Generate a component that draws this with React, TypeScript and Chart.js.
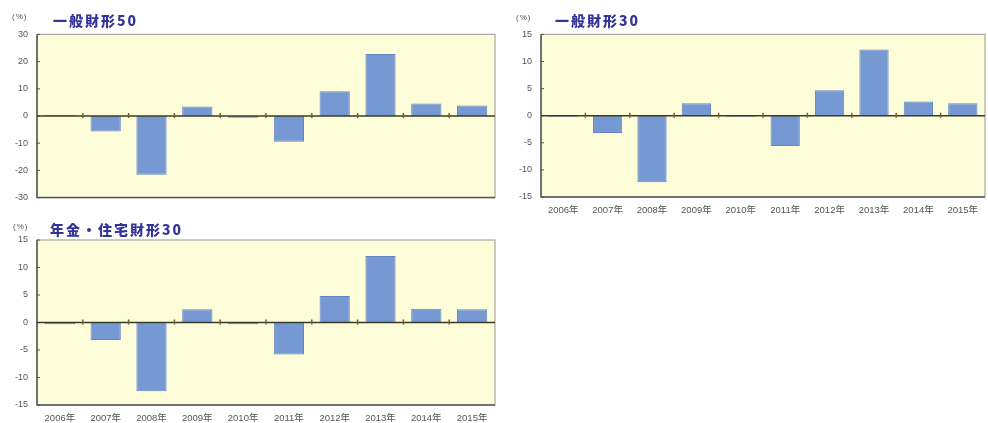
import React, { useEffect, useRef } from "react";
import { Chart, registerables } from "chart.js";
Chart.register(...registerables);

const years = ["2006年", "2007年", "2008年", "2009年", "2010年", "2011年", "2012年", "2013年", "2014年", "2015年"];
const ippan50 = [0.4, -5.7, -21.6, 3.5, -0.6, -9.5, 9.1, 22.8, 4.6, 3.9];
const ippan30 = [-0.2, -3.2, -12.3, 2.3, -0.2, -5.6, 4.7, 12.2, 2.6, 2.3];
const nenkin30 = [-0.3, -3.2, -12.5, 2.4, -0.3, -5.8, 4.8, 12.1, 2.5, 2.4];
const titles = ["一般財形50", "一般財形30", "年金・住宅財形30"];
const unitLabel = "(%)";

const decor = {
  id: "decor",
  beforeDraw(chart: any) {
    const { ctx, chartArea: a } = chart;
    ctx.save();
    ctx.fillStyle = "#FEFDD9";
    ctx.fillRect(a.left, a.top, a.right - a.left, a.bottom - a.top);
    ctx.restore();
  },
  afterDatasetsDraw(chart: any) {
    const { ctx, chartArea: a, scales } = chart;
    const y = scales.y;
    const x = scales.x;
    ctx.save();
    ctx.strokeStyle = "#a8a8a0";
    ctx.lineWidth = 1.2;
    ctx.strokeRect(a.left, a.top, a.right - a.left, a.bottom - a.top);
    ctx.strokeStyle = "#555";
    ctx.lineWidth = 1.5;
    ctx.beginPath();
    ctx.moveTo(a.left, a.top);
    ctx.lineTo(a.left, a.bottom);
    ctx.lineTo(a.right, a.bottom);
    ctx.stroke();
    ctx.lineWidth = 1;
    y.ticks.forEach((t: any) => {
      const py = y.getPixelForValue(t.value);
      ctx.beginPath();
      ctx.moveTo(a.left, py);
      ctx.lineTo(a.left + 3, py);
      ctx.stroke();
    });
    const z = y.getPixelForValue(0);
    ctx.strokeStyle = "#3a3a2a";
    ctx.lineWidth = 1.6;
    ctx.beginPath();
    ctx.moveTo(a.left, z);
    ctx.lineTo(a.right, z);
    ctx.stroke();
    ctx.strokeStyle = "#6b6030";
    ctx.lineWidth = 1.5;
    const n = x.getLabels().length;
    for (let i = 0; i < n - 1; i++) {
      const px = (x.getPixelForValue(i) + x.getPixelForValue(i + 1)) / 2;
      ctx.beginPath();
      ctx.moveTo(px, z - 3);
      ctx.lineTo(px, z + 2);
      ctx.stroke();
    }
    ctx.restore();
  },
};

type Spec = {
  data: number[];
  range: number;
  step: number;
  left: number;
  top: number;
  width: number;
  height: number;
  yWidth: number;
  xHeight: number;
  showX: boolean;
  pad: { top: number; right: number; bottom: number; left: number };
};

function BarChart({ spec }: { spec: Spec }) {
  const ref = useRef<HTMLCanvasElement>(null);
  useEffect(() => {
    if (!ref.current) return;
    const chart = new Chart(ref.current, {
      type: "bar",
      data: {
        labels: years,
        datasets: [
          {
            data: spec.data,
            backgroundColor: "#7698D3",
            borderColor: "#6585C0",
            borderWidth: 1,
            categoryPercentage: 1,
            barPercentage: 0.66,
          },
        ],
      },
      plugins: [decor],
      options: {
        animation: false,
        responsive: false,
        layout: { padding: spec.pad },
        plugins: { legend: { display: false }, tooltip: { enabled: false } },
        scales: {
          x: {
            grid: { display: false, drawTicks: false },
            border: { display: false },
            ticks: {
              display: spec.showX,
              padding: 8,
              color: "#555",
              font: { size: 9.5, family: "'Liberation Sans', 'Noto Sans CJK JP', sans-serif" },
              maxRotation: 0,
              autoSkip: false,
            },
            afterFit: (s: any) => {
              s.height = spec.xHeight;
            },
          },
          y: {
            min: -spec.range,
            max: spec.range,
            grid: { display: false, drawTicks: false },
            border: { display: false },
            ticks: {
              stepSize: spec.step,
              padding: 9,
              color: "#555",
              font: { size: 9, family: "'Liberation Sans', Arial, sans-serif" },
            },
            afterFit: (s: any) => {
              s.width = spec.yWidth;
            },
          },
        },
      },
    });
    return () => chart.destroy();
  }, []);
  return (
    <canvas
      ref={ref}
      width={spec.width}
      height={spec.height}
      style={{ position: "absolute", left: spec.left, top: spec.top, width: spec.width, height: spec.height }}
    />
  );
}

const titleStyle: React.CSSProperties = {
  position: "absolute",
  fontFamily: "'Noto Sans CJK JP', sans-serif",
  fontWeight: 900,
  fontSize: 14,
  letterSpacing: 2,
  color: "#33339a",
  lineHeight: "15px",
  whiteSpace: "nowrap",
};
const unitStyle: React.CSSProperties = {
  position: "absolute",
  fontFamily: "'Liberation Sans', Arial, sans-serif",
  fontSize: 8,
  letterSpacing: 1,
  color: "#555",
  lineHeight: "9px",
  whiteSpace: "nowrap",
};

export default function App() {
  const specs: Spec[] = [
    { data: ippan50, range: 30, step: 10, left: 0, top: 20, width: 500, height: 192, yWidth: 37, xHeight: 0, showX: false, pad: { top: 12, right: 5, bottom: 1, left: 0 } },
    { data: ippan30, range: 15, step: 5, left: 500, top: 20, width: 488, height: 203, yWidth: 41, xHeight: 20, showX: true, pad: { top: 13, right: 3, bottom: 6, left: 0 } },
    { data: nenkin30, range: 15, step: 5, left: 0, top: 225, width: 500, height: 198, yWidth: 37, xHeight: 18, showX: true, pad: { top: 15, right: 5, bottom: 0, left: 0 } },
  ];
  return (
    <div style={{ position: "absolute", left: 0, top: 0, width: 988, height: 423, background: "#fff", overflow: "hidden" }}>
      {specs.map((s, i) => (
        <BarChart key={i} spec={s} />
      ))}
      <div style={{ ...unitStyle, left: 12, top: 12 }}>{unitLabel}</div>
      <div style={{ ...titleStyle, left: 53, top: 13 }}>{titles[0]}</div>
      <div style={{ ...unitStyle, left: 516, top: 13 }}>{unitLabel}</div>
      <div style={{ ...titleStyle, left: 555, top: 13 }}>{titles[1]}</div>
      <div style={{ ...unitStyle, left: 13, top: 222 }}>{unitLabel}</div>
      <div style={{ ...titleStyle, left: 50, top: 222 }}>{titles[2]}</div>
    </div>
  );
}
